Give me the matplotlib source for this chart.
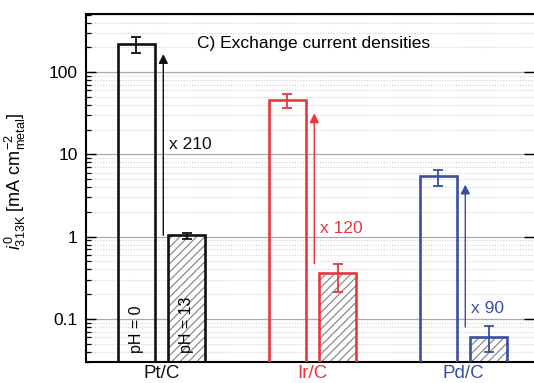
import matplotlib
matplotlib.use("Agg")
import matplotlib.pyplot as plt
import numpy as np
import matplotlib.transforms as mtrans
from matplotlib.ticker import LogLocator, NullFormatter, FixedLocator, FixedFormatter

plt.rcParams['font.family'] = ['Liberation Sans', 'DejaVu Sans']
plt.rcParams['mathtext.fontset'] = 'custom'
plt.rcParams['mathtext.rm'] = 'Liberation Sans'
plt.rcParams['mathtext.it'] = 'Liberation Sans:italic'
plt.rcParams['hatch.linewidth'] = 0.8

# ---- data ----
catalysts = ["Pt/C", "Ir/C", "Pd/C"]
colors = ["#111111", "#e8373d", "#3a4ea3"]
i0_ph0 = [219, 45.5, 5.4]
i0_ph0_lo = [170, 37, 4.1]
i0_ph0_hi = [265, 55, 6.5]
i0_ph13 = [1.04, 0.36, 0.06]
i0_ph13_lo = [0.95, 0.21, 0.040]
i0_ph13_hi = [1.12, 0.47, 0.082]
ratio_labels = ["x 210", "x 120", "x 90"]
arrow_start = [1.04, 0.47, 0.08]
arrow_end = [166, 31.6, 4.3]
ratio_text_y = [13.2, 1.25, 0.136]
ph_labels = ["pH = 0", "pH = 13"]
yticks = [0.1, 1, 10, 100]
ytick_labels = ["0.1", "1", "10", "100"]

fig = plt.figure(figsize=(5.34, 3.83), dpi=100)
ax = fig.add_axes([86/534, 1-362/383, 448/534, 348/383])

x = np.arange(len(catalysts))
w = 0.24
off = 0.166

for i in range(len(catalysts)):
    c = colors[i]
    # pH 0 bar
    ax.bar(x[i]-off, i0_ph0[i], width=w, bottom=0.001, facecolor='none',
           edgecolor=c, linewidth=1.9, zorder=3)
    ax.errorbar(x[i]-off, i0_ph0[i],
                yerr=[[i0_ph0[i]-i0_ph0_lo[i]], [i0_ph0_hi[i]-i0_ph0[i]]],
                fmt='none', ecolor=c, elinewidth=1.3, capsize=3.5, capthick=1.3, zorder=4)
    # pH 13 bar (hatched)
    ax.bar(x[i]+off, i0_ph13[i], width=w, bottom=0.001, facecolor='white',
           edgecolor='#808080', hatch='////', linewidth=0, zorder=2.5)
    ax.bar(x[i]+off, i0_ph13[i], width=w, bottom=0.001, facecolor='none',
           edgecolor=c, linewidth=1.9, zorder=3)
    ax.errorbar(x[i]+off, i0_ph13[i],
                yerr=[[i0_ph13[i]-i0_ph13_lo[i]], [i0_ph13_hi[i]-i0_ph13[i]]],
                fmt='none', ecolor=c, elinewidth=1.3, capsize=3.5, capthick=1.3, zorder=4)
    # arrow
    ax.annotate("", xy=(x[i]+0.012, arrow_end[i]), xytext=(x[i]+0.012, arrow_start[i]),
                arrowprops=dict(arrowstyle='-|>,head_length=0.55,head_width=0.28',
                                color=c, lw=1.0, shrinkA=0, shrinkB=0), zorder=4)
    ax.text(x[i]+0.05, ratio_text_y[i], ratio_labels[i], color=c, fontsize=12.5,
            ha='left', va='center', zorder=5)

# pH labels inside Pt bars
trans = mtrans.blended_transform_factory(ax.transData, ax.transAxes)
ax.text(x[0]-off, 0.026, ph_labels[0], rotation=90, ha='center', va='bottom',
        fontsize=11.5, transform=trans, zorder=5)
ax.text(x[0]+off, 0.026, ph_labels[1], rotation=90, ha='center', va='bottom',
        fontsize=11.5, transform=trans, zorder=5)

ax.text(0.248, 0.914, "C) Exchange current densities", transform=ax.transAxes,
        fontsize=12.5, ha='left', va='center')

ax.set_yscale('log')
ax.set_ylim(0.03, 510)
ax.set_xlim(-0.5, 2.467)

ax.yaxis.set_major_locator(FixedLocator(yticks))
ax.yaxis.set_major_formatter(FixedFormatter(ytick_labels))
ax.yaxis.set_minor_locator(LogLocator(base=10, subs=np.arange(2, 10)))
ax.yaxis.set_minor_formatter(NullFormatter())
ax.tick_params(axis='y', which='major', direction='in', length=7, width=1.0,
               labelsize=12.5, pad=6, right=True)
ax.tick_params(axis='y', which='minor', direction='in', length=3.5, width=0.9)
ax.tick_params(axis='y', which='minor', right=False)

ax.set_xticks(x)
ax.set_xticklabels(catalysts, fontsize=13.5)
for lbl, c in zip(ax.get_xticklabels(), colors):
    lbl.set_color(c)
ax.tick_params(axis='x', length=0, pad=2)

ax.grid(True, which='major', axis='y', color='#aaaaaa', linewidth=0.9, zorder=0)
ax.grid(True, which='minor', axis='y', color='#d2d2d2', linewidth=0.8,
        linestyle=(0, (1, 1.5)), zorder=0)
ax.set_axisbelow(True)

for s in ['left', 'top', 'bottom']:
    ax.spines[s].set_linewidth(1.5)
ax.spines['right'].set_visible(False)

ax.set_ylabel(r"$i^{\,0}_{\rm 313K}$ [mA cm$^{-2}_{\rm metal}$]", fontsize=13)
ax.yaxis.set_label_coords(-0.13, 0.52)

fig.savefig("out.png", dpi=100)
